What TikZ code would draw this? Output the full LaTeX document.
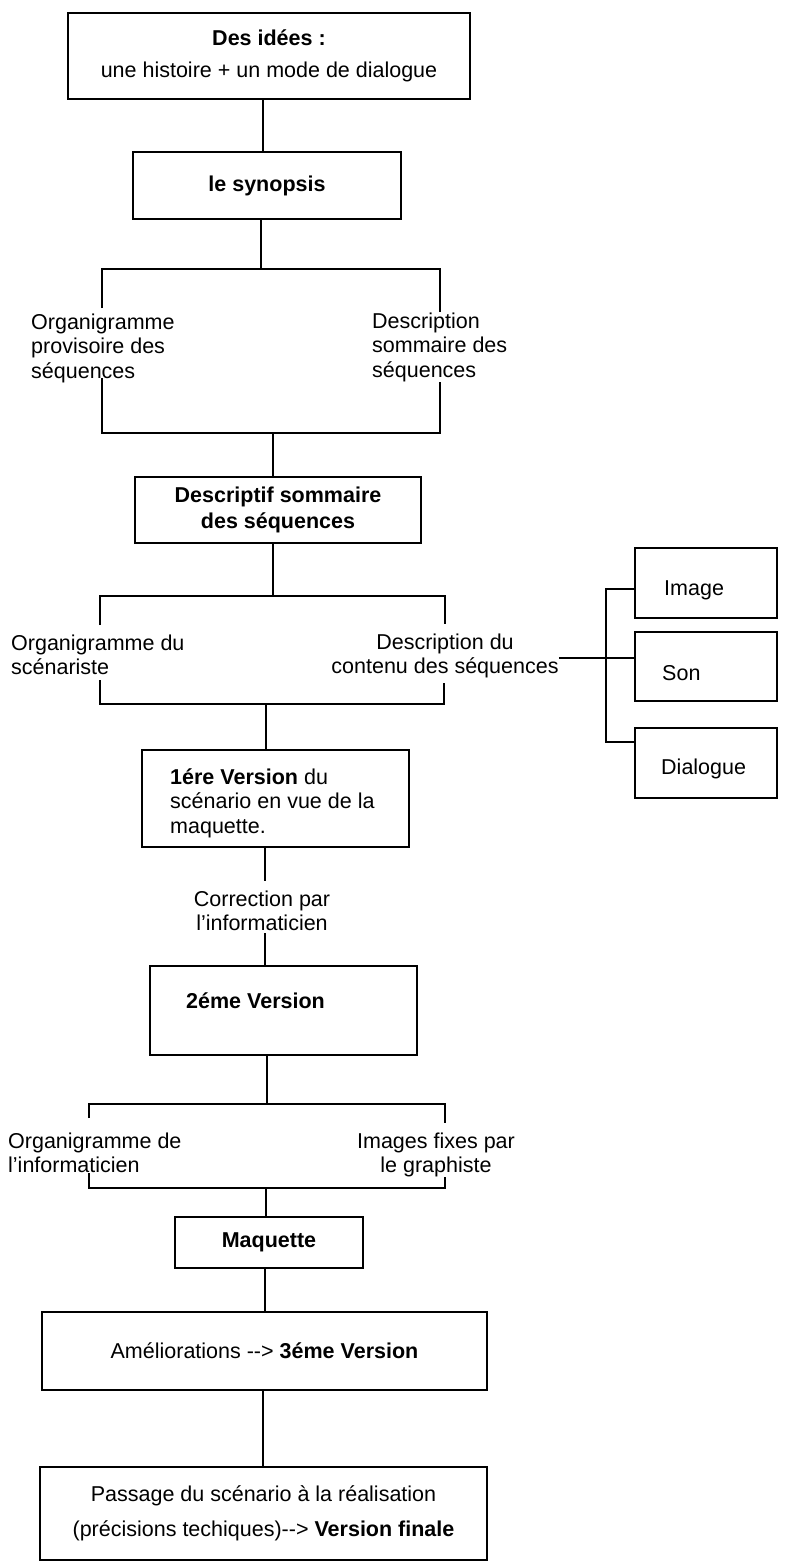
\documentclass[tikz,border=0pt]{standalone}
\usepackage{fontspec}
\setmainfont{Liberation Sans}
% two separate hyphens, kept apart so they never merge into a dash
\newcommand{\arrowtxt}{\mbox{-}\mbox{-}>}
\begin{document}
\begin{tikzpicture}[x=1pt,y=-1pt,
  every node/.style={font=\fontsize{21.5}{24.5}\selectfont},
  stage/.style={draw, line width=1.8pt, rectangle, inner sep=0pt, align=center},
  lbl/.style={inner sep=0pt, anchor=west, align=left},
  clbl/.style={inner sep=0pt, align=center},
  wire/.style={line width=1.8pt}]
\fill[white] (0,0) rectangle (788,1562);
\useasboundingbox (0,0) rectangle (788,1562);

% ---- main stages ----
\node[stage, minimum width=402pt, minimum height=86pt] (ideas) at (269,56)
  {\textbf{Des idées :}\\[7pt]une histoire + un mode de dialogue};
\node[stage, minimum width=268pt, minimum height=67pt] (syn) at (267,185.5)
  {\textbf{le synopsis}};
\node[stage, minimum width=286pt, minimum height=66pt] (descr) at (278,510)
  {\textbf{Descriptif sommaire}\\[2pt]\textbf{des séquences}};
\node[stage, minimum width=267pt, minimum height=97pt] (v1) at (275.5,798.5) {};
\node[lbl] (v1t) at (170,803) {\textbf{1ére Version} du\\scénario en vue de la\\maquette.};
\node[stage, minimum width=267pt, minimum height=89pt] (v2) at (283.5,1010.5) {};
\node[lbl] (v2t) at (186,1001) {\textbf{2éme Version}};
\node[stage, minimum width=188pt, minimum height=51pt] (maq) at (269,1242.5)
  {\textbf{Maquette}};
\node[stage, minimum width=445pt, minimum height=78pt] (amel) at (264.5,1351)
  {Améliorations \arrowtxt{} \textbf{3éme Version}};
\node[stage, minimum width=447pt, minimum height=93pt] (fin) at (263.5,1513.5)
  {Passage du scénario à la réalisation\\[10pt](précisions techiques)\arrowtxt{} \textbf{Version finale}};

% ---- side boxes ----
\node[stage, minimum width=142pt, minimum height=70pt] (img) at (706,583) {};
\node[lbl] (imgt) at (664,590) {Image};
\node[stage, minimum width=142pt, minimum height=69pt] (son) at (706,666.5) {};
\node[lbl] (sont) at (662,673) {Son};
\node[stage, minimum width=142pt, minimum height=70pt] (dlg) at (706,763) {};
\node[lbl] (dlgt) at (661,769) {Dialogue};

% ---- bracket labels ----
\node[lbl] (org1) at (31,348) {Organigramme\\provisoire des\\séquences};
\node[lbl] (som1) at (372,347) {Description\\sommaire des\\séquences};
\node[lbl] (org2) at (11,655) {Organigramme du\\scénariste};
\node[clbl] (cont2) at (445,656) {Description du\\contenu des séquences};
\node[clbl] (corr) at (262,911) {Correction par\\l'informaticien};
\node[lbl] (org3) at (8,1153) {Organigramme de\\l'informaticien};
\node[clbl] (fix3) at (436,1155) {Images fixes par\\le graphiste};

% ---- junction points ----
\coordinate (j1) at (261,269);
\coordinate (j2) at (273,433);
\coordinate (j3) at (273,596);
\coordinate (j4) at (266,704);
\coordinate (c5a) at (265,881);
\coordinate (c5b) at (265,933);
\coordinate (j6) at (267,1104);
\coordinate (j7) at (266,1188);
\coordinate (hub) at (606,658);

% ---- connectors ----
\draw[wire] (ideas.south -| 263,0) -- (syn.north -| 263,0);
\draw[wire] (syn.south -| j1) -- (j1);
\draw[wire] (102,308) -- (102,269) -- (440,269) -- (440,312);
\draw[wire] (102,378) -- (102,433) -- (440,433) -- (440,382);
\draw[wire] (j2) -- (descr.north -| j2);

\draw[wire] (descr.south -| j3) -- (j3);
\draw[wire] (100,625) -- (100,596) -- (445,596) -- (445,624);
\draw[wire] (100,680) -- (100,704) -- (444,704) -- (444,683);
\draw[wire] (j4) -- (v1.north -| j4);

\draw[wire] (cont2.east |- hub) -- (son.west |- hub);
\draw[wire] (img.west |- 606,589) -- (606,589) -- (606,742) -- (dlg.west |- 606,742);

\draw[wire] (v1.south -| c5a) -- (c5a);
\draw[wire] (c5b) -- (v2.north -| c5b);

\draw[wire] (v2.south -| j6) -- (j6);
\draw[wire] (89,1118) -- (89,1104) -- (445,1104) -- (445,1123);
\draw[wire] (89,1173) -- (89,1188) -- (445,1188) -- (445,1177);
\draw[wire] (j7) -- (maq.north -| j7);

\draw[wire] (maq.south -| 265,0) -- (amel.north -| 265,0);
\draw[wire] (amel.south -| 263,0) -- (fin.north -| 263,0);
\end{tikzpicture}
\end{document}
